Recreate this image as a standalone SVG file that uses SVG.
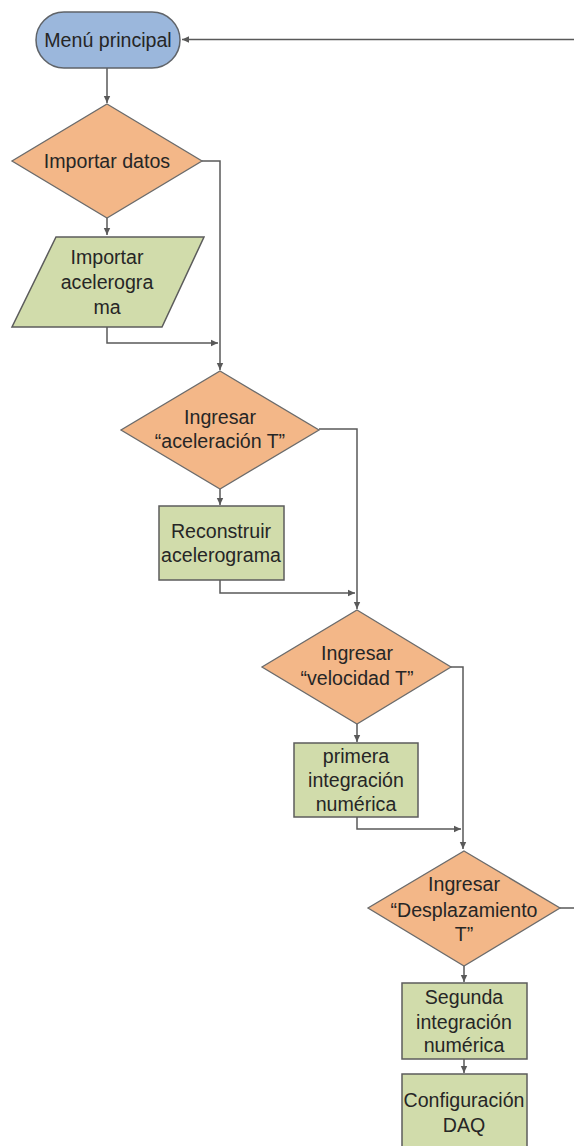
<svg xmlns="http://www.w3.org/2000/svg" width="574" height="1146" viewBox="0 0 574 1146">
<style>
.term{fill:#9bb7dc;stroke:#5f6368;stroke-width:1.5}
.dec{fill:#f3b788;stroke:#6b6b6b;stroke-width:1.3}
.proc{fill:#d1dcab;stroke:#5c5c5c;stroke-width:1.5}
.t{font-family:"Liberation Sans",Arial,sans-serif;font-size:19.6px;fill:#262626;text-anchor:middle;dominant-baseline:central}
.c{fill:none;stroke:#595959;stroke-width:1.5}
</style>
<defs>
<marker id="ah" markerWidth="8" markerHeight="8" refX="7" refY="4" orient="auto" markerUnits="userSpaceOnUse">
<path d="M0,0.8 L7,4 L0,7.2 z" fill="#595959"/>
</marker>
</defs>
<rect width="574" height="1146" fill="#ffffff"/>
<g id="connectors">
<path class="c" d="M107,68 V103" marker-end="url(#ah)"/>
<path class="c" d="M107,218 V235" marker-end="url(#ah)"/>
<path class="c" d="M202,161 H220 V370" marker-end="url(#ah)"/>
<path class="c" d="M107,327 V343 H218" marker-end="url(#ah)"/>
<path class="c" d="M220,489 V505" marker-end="url(#ah)"/>
<path class="c" d="M319,429 H357 V609" marker-end="url(#ah)"/>
<path class="c" d="M220,580 V593 H355" marker-end="url(#ah)"/>
<path class="c" d="M357,724 V742" marker-end="url(#ah)"/>
<path class="c" d="M450,667 H463 V849" marker-end="url(#ah)"/>
<path class="c" d="M357,817 V829 H461" marker-end="url(#ah)"/>
<path class="c" d="M464,966 V982" marker-end="url(#ah)"/>
<path class="c" d="M464,1059 V1073" marker-end="url(#ah)"/>
<path class="c" d="M560,908 H578 V39.5 H182" marker-end="url(#ah)"/>
</g>
<g id="menu">
<rect class="term" x="36" y="12" width="144" height="56" rx="28" ry="28"/>
<text class="t" x="108" y="40">Menú principal</text>
</g>
<g id="importar-datos">
<polygon class="dec" points="107,104 202,161 107,218 12,161"/>
<text class="t" x="107" y="161">Importar datos</text>
</g>
<g id="importar-acelerograma">
<polygon class="proc" points="56,237 204,237 162,327 12,327"/>
<text class="t" x="107" y="257">Importar</text>
<text class="t" x="107" y="282">acelerogra</text>
<text class="t" x="107" y="307">ma</text>
</g>
<g id="ingresar-aceleracion">
<polygon class="dec" points="220,371 319,430 220,489 121,430"/>
<text class="t" x="220" y="417">Ingresar</text>
<text class="t" x="220" y="441">“aceleración T”</text>
</g>
<g id="reconstruir">
<rect class="proc" x="159" y="506" width="125" height="74"/>
<text class="t" x="221" y="531">Reconstruir</text>
<text class="t" x="221" y="555">acelerograma</text>
</g>
<g id="ingresar-velocidad">
<polygon class="dec" points="357,610 451,667 357,724 262,667"/>
<text class="t" x="357" y="653">Ingresar</text>
<text class="t" x="357" y="678">“velocidad T”</text>
</g>
<g id="primera-integracion">
<rect class="proc" x="294" y="743" width="124" height="74"/>
<text class="t" x="356" y="756">primera</text>
<text class="t" x="356" y="780">integración</text>
<text class="t" x="356" y="804">numérica</text>
</g>
<g id="ingresar-desplazamiento">
<polygon class="dec" points="464,851 560,908 464,966 368,908"/>
<text class="t" x="464" y="884">Ingresar</text>
<text class="t" x="464" y="910">“Desplazamiento</text>
<text class="t" x="464" y="934">T”</text>
</g>
<g id="segunda-integracion">
<rect class="proc" x="402" y="983" width="125" height="76"/>
<text class="t" x="464" y="997">Segunda</text>
<text class="t" x="464" y="1022">integración</text>
<text class="t" x="464" y="1045">numérica</text>
</g>
<g id="configuracion-daq">
<rect class="proc" x="402" y="1074" width="125" height="80"/>
<text class="t" x="464" y="1100">Configuración</text>
<text class="t" x="464" y="1125">DAQ</text>
</g>
</svg>
